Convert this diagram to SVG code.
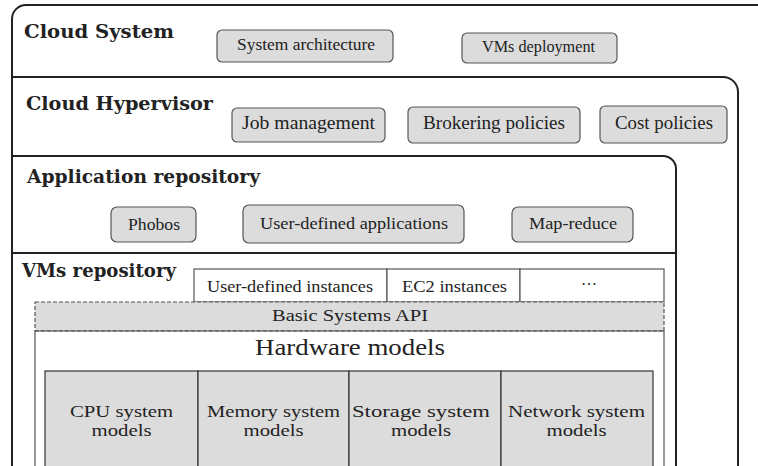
<svg xmlns="http://www.w3.org/2000/svg" width="758" height="466" viewBox="0 0 758 466">
<style>
text{font-family:"Liberation Serif","DejaVu Serif",serif;fill:#222}
.title{font-family:"DejaVu Serif","Liberation Serif",serif;font-weight:bold;font-size:19px}
.frame{fill:#fff;stroke:#222;stroke-width:2}
.pill{fill:#dcdcdc;stroke:#555;stroke-width:1.2}
.cell{fill:#fff;stroke:#555;stroke-width:1.2}
.gcell{fill:#dcdcdc;stroke:#333;stroke-width:1.2}
.s15{font-size:16px;text-anchor:middle}
.s17{font-size:18px;text-anchor:middle}
.s16{font-size:17.5px;text-anchor:middle}
</style>
<g id="cloud-system">
<rect class="frame" x="12" y="5" width="760" height="480" rx="14"/>
<text class="title" x="24" y="38" textLength="150" lengthAdjust="spacingAndGlyphs">Cloud System</text>
</g>
<g id="cloud-hypervisor">
<path class="frame" d="M12 77 H723 A15 15 0 0 1 738 92 V480 H12 Z"/>
<text class="title" x="26" y="110" textLength="187" lengthAdjust="spacingAndGlyphs">Cloud Hypervisor</text>
</g>
<g id="application-repository">
<path class="frame" d="M12 156 H663 A13 13 0 0 1 676 169 V480 H12 Z"/>
<text class="title" x="27" y="183" textLength="233" lengthAdjust="spacingAndGlyphs">Application repository</text>
</g>
<g id="vms-repository">
<line x1="12" y1="253" x2="676" y2="253" stroke="#222" stroke-width="2"/>
<text class="title" x="22" y="277" textLength="154" lengthAdjust="spacingAndGlyphs">VMs repository</text>
</g>
<g id="system-architecture"><rect class="pill" x="217" y="30" width="176" height="32" rx="5"/><text class="s15" x="306" y="50" textLength="138" lengthAdjust="spacingAndGlyphs">System architecture</text></g>
<g id="vms-deployment"><rect class="pill" x="462" y="33" width="155" height="30" rx="5"/><text class="s15" x="538.5" y="52" textLength="113" lengthAdjust="spacingAndGlyphs">VMs deployment</text></g>
<g id="job-management"><rect class="pill" x="232" y="108" width="153" height="34" rx="5"/><text class="s17" x="308.5" y="129" textLength="133" lengthAdjust="spacingAndGlyphs">Job management</text></g>
<g id="brokering-policies"><rect class="pill" x="408" y="107" width="172" height="36" rx="5"/><text class="s17" x="494" y="129" textLength="142" lengthAdjust="spacingAndGlyphs">Brokering policies</text></g>
<g id="cost-policies"><rect class="pill" x="600" y="106" width="127" height="37" rx="5"/><text class="s17" x="664" y="129" textLength="98" lengthAdjust="spacingAndGlyphs">Cost policies</text></g>
<g id="phobos"><rect class="pill" x="111" y="207" width="85" height="35" rx="6"/><text class="s15" x="154" y="230" textLength="52" lengthAdjust="spacingAndGlyphs">Phobos</text></g>
<g id="user-defined-applications"><rect class="pill" x="243" y="205" width="221" height="38" rx="6"/><text class="s16" x="354" y="229" textLength="188" lengthAdjust="spacingAndGlyphs">User-defined applications</text></g>
<g id="map-reduce"><rect class="pill" x="512" y="207" width="121" height="35" rx="6"/><text class="s15" x="573" y="229" textLength="88" lengthAdjust="spacingAndGlyphs">Map-reduce</text></g>
<g id="instances">
<rect class="cell" x="194" y="269" width="193" height="33"/>
<rect class="cell" x="387" y="269" width="133" height="33"/>
<rect class="cell" x="520" y="269" width="144" height="33"/>
<text class="s15" x="290" y="292" textLength="166" lengthAdjust="spacingAndGlyphs">User-defined instances</text>
<text class="s15" x="454.5" y="292" textLength="105" lengthAdjust="spacingAndGlyphs">EC2 instances</text>
<text class="s15" x="589" y="290">···</text>
</g>
<g id="basic-systems-api">
<rect x="35" y="302" width="629" height="29" fill="#dcdcdc" stroke="#555" stroke-width="1.2" stroke-dasharray="4 2"/>
<text class="s16" x="350" y="321" textLength="156" lengthAdjust="spacingAndGlyphs">Basic Systems API</text>
</g>
<g id="hardware-models">
<path d="M35 480 V331 H664 V480" fill="#fff" stroke="#555" stroke-width="1.2"/>
<line x1="35" y1="331" x2="664" y2="331" stroke="#555" stroke-width="1.2" stroke-dasharray="4 2"/>
<text x="350" y="355" font-size="23" text-anchor="middle" textLength="190" lengthAdjust="spacingAndGlyphs">Hardware models</text>
</g>
<g id="cpu"><rect class="gcell" x="45" y="371" width="153" height="110"/><text class="s16" x="121.5" y="417" textLength="103" lengthAdjust="spacingAndGlyphs">CPU system</text><text class="s16" x="121.5" y="436" textLength="60" lengthAdjust="spacingAndGlyphs">models</text></g>
<g id="memory"><rect class="gcell" x="198" y="371" width="151" height="110"/><text class="s16" x="273.5" y="417" textLength="133" lengthAdjust="spacingAndGlyphs">Memory system</text><text class="s16" x="273.5" y="436" textLength="60" lengthAdjust="spacingAndGlyphs">models</text></g>
<g id="storage"><rect class="gcell" x="349" y="371" width="152" height="110"/><text class="s16" x="421" y="417" textLength="138" lengthAdjust="spacingAndGlyphs">Storage system</text><text class="s16" x="421" y="436" textLength="60" lengthAdjust="spacingAndGlyphs">models</text></g>
<g id="network"><rect class="gcell" x="501" y="371" width="152" height="110"/><text class="s16" x="576.5" y="417" textLength="137" lengthAdjust="spacingAndGlyphs">Network system</text><text class="s16" x="576.5" y="436" textLength="60" lengthAdjust="spacingAndGlyphs">models</text></g>
<g id="connectors"/>
</svg>
